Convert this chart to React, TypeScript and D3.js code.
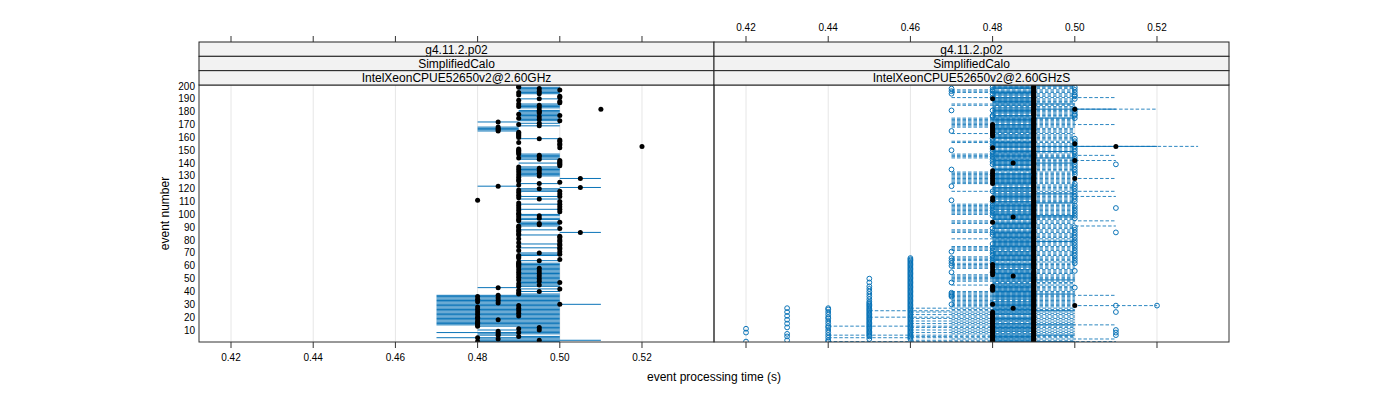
import React from 'react';
import * as d3 from 'd3';

// ---------- data (times in ms) ----------
const stripLevels1 = ['g4.11.2.p02', 'g4.11.2.p02'];
const stripLevels2 = ['SimplifiedCalo', 'SimplifiedCalo'];
const stripLevels3 = ['IntelXeonCPUE52650v2@2.60GHz', 'IntelXeonCPUE52650v2@2.60GHzS'];
const xTicks = [0.42, 0.44, 0.46, 0.48, 0.5, 0.52];
const xTickLabels = ['0.42', '0.44', '0.46', '0.48', '0.50', '0.52'];
const yTicks = [10, 20, 30, 40, 50, 60, 70, 80, 90, 100, 110, 120, 130, 140, 150, 160, 170, 180, 190, 200];

// left panel: one point per event, solid range line
const leftMedian = [
  480,495,485,480,490,485,485,490,485,495, 490,495,480,480,480,480,480,485,480,480,
  490,480,490,480,490,480,490,480,490,500, 485,480,485,480,485,480,485,490,490,495,
  490,500,485,490,495,490,500,495,490,495, 490,495,490,495,490,495,490,495,490,490,
  490,490,490,495,500,490,490,490,500,495, 500,490,500,500,490,500,500,490,500,500,
  490,500,500,490,490,505,490,490,500,490, 490,495,495,500,490,490,495,490,495,490,
  490,500,490,500,490,500,490,500,490,500, 480,495,490,500,490,500,490,500,490,495,
  505,485,490,495,500,490,490,505,490,495, 490,495,490,495,490,495,490,500,500,500,
  500,500,495,490,495,495,490,490,490,490, 490,500,520,500,500,490,500,500,495,490,
  490,490,490,490,485,485,485,485,495,490, 495,485,500,495,490,495,500,490,495,495,
  495,510,495,490,495,490,500,500,490,495, 500,500,490,495,490,495,500,495,490,490,
];
const leftMin = [
  480,480,480,470,490,480,480,470,490,480, 490,490,480,470,470,470,470,470,470,470,
  470,470,470,470,470,470,470,470,470,470, 470,470,470,470,470,470,470,490,490,490,
  490,490,480,490,490,490,490,490,490,490, 490,490,490,490,490,490,490,490,490,490,
  490,490,490,490,500,490,490,490,490,490, 500,490,500,490,490,500,490,490,500,500,
  490,500,500,490,490,500,490,490,500,490, 490,490,490,490,490,490,490,490,490,490,
  490,500,490,490,490,500,490,490,490,500, 480,490,490,490,490,500,490,490,490,490,
  500,480,490,490,500,490,490,500,490,490, 490,490,490,490,490,490,490,500,500,490,
  490,500,490,490,490,490,490,490,490,490, 490,500,520,500,500,490,500,500,490,490,
  490,490,490,490,480,480,480,480,490,490, 490,480,490,490,490,490,490,490,490,490,
  490,510,490,490,490,490,500,500,490,490, 500,500,490,490,490,490,490,490,490,490,
];
const leftMax = [
  500,510,500,500,500,490,500,500,500,500, 500,500,500,500,500,500,500,500,500,500,
  500,500,500,500,500,500,500,500,500,510, 500,500,500,500,500,500,500,500,490,500,
  490,500,490,500,500,500,500,500,500,500, 500,500,500,500,500,500,500,500,500,500,
  500,500,490,500,500,490,490,500,500,500, 500,490,500,500,490,500,500,490,500,500,
  490,500,500,500,490,510,490,500,500,490, 500,500,500,500,490,500,500,490,500,500,
  490,500,490,500,490,500,490,500,490,500, 480,500,490,500,490,500,490,500,500,500,
  510,490,490,500,500,490,490,510,490,500, 500,500,500,500,500,500,500,500,500,500,
  490,500,500,500,500,500,500,490,490,490, 490,500,520,500,500,490,500,500,500,490,
  490,490,490,490,490,490,490,490,500,490, 500,490,500,500,500,500,500,500,500,500,
  500,510,500,500,500,500,500,500,490,500, 500,500,490,500,500,500,500,500,500,490,
];

// right panel, solid series (black points)
const rightSolidMin = [
  480,480,480,480,480,480,480,480,480,480, 480,480,480,480,480,480,480,480,480,480,
  480,480,480,480,480,480,480,480,480,480, 480,480,480,480,480,480,480,480,480,480,
  480,480,480,480,480,480,480,480,480,480, 480,480,480,480,480,480,480,480,480,480,
  480,480,480,480,480,480,480,480,480,480, 480,480,480,480,480,480,480,480,480,480,
  480,480,480,480,480,480,480,480,480,480, 480,480,480,480,480,480,480,480,480,480,
  480,480,480,480,480,480,480,480,480,480, 480,480,480,480,480,480,480,480,480,480,
  480,480,480,480,480,480,480,480,480,480, 480,480,480,480,480,480,480,480,480,480,
  480,480,480,480,480,480,480,480,480,480, 480,480,480,480,480,480,480,480,480,480,
  480,480,480,480,480,480,480,480,480,480, 480,480,480,480,480,480,480,480,480,480,
  480,480,480,480,480,480,480,480,480,480, 480,480,480,480,480,480,480,480,480,480,
];
const rightSolidMax = [
  500,490,490,490,490,500,490,480,490,490, 490,490,490,500,490,480,490,490,490,490,
  480,490,490,490,500,490,490,490,490,490, 490,490,480,490,490,490,490,500,490,490,
  490,490,490,490,490,490,480,490,500,490, 490,490,490,490,490,490,490,480,490,490,
  490,490,480,490,490,490,490,490,490,490, 490,480,490,490,490,490,490,490,500,490,
  490,490,490,490,490,490,490,480,490,490, 490,490,490,490,480,490,490,500,500,490,
  490,490,480,490,490,490,490,490,500,490, 480,490,490,490,490,500,480,490,490,490,
  490,480,490,490,490,490,490,490,490,490, 490,490,480,490,490,490,480,490,490,500,
  490,490,490,500,490,490,490,490,500,490, 480,490,520,490,490,490,490,480,490,490,
  490,490,480,490,490,490,490,490,490,490, 480,490,490,490,500,490,490,480,490,490,
  490,510,490,480,490,500,490,490,490,490, 490,480,490,490,490,490,480,490,490,500,
];
const rightDots480 = [1,2,3,4,5,6,7,8,9,10,11,12,13,14,15,16,17,18,19,20,21,22,23,24,30,41,43,44,53,55,57,59,61,94,111,113,124,126,128,130,132,134,152,161,162,163,164,165,166,167,168,169,170,190];
const rightDots485 = [27, 52, 98, 140];
const rightDots490 = [
  1,2,3,4,5,6,7,8,9,10,11,12,13,14,15,16,17,18,19,20,21,22,23,24,25,26,27,28,29,30,
  31,32,33,34,35,36,37,38,39,40,41,42,43,44,45,46,47,48,49,50,51,52,53,54,55,56,58,59,60,
  61,62,63,64,65,66,67,68,69,70,71,72,73,74,75,76,77,78,79,80,81,82,83,84,85,86,87,88,90,
  91,92,93,94,95,96,97,98,99,100,101,102,103,104,105,106,107,108,109,110,111,112,113,114,115,116,117,118,119,120,
  121,122,123,124,125,126,127,128,129,130,132,133,134,135,136,137,138,139,140,141,142,143,144,145,146,147,148,149,150,
  151,152,153,154,155,156,157,158,159,160,161,162,163,164,165,166,167,168,169,170,171,172,173,174,175,177,178,179,180,
  181,182,183,184,185,186,187,188,189,190,191,192,193,194,195,196,197,198,199,200,
];
const rightDots500 = [29, 128, 142, 155, 182];
const rightDots510 = [153];

// right panel, dashed series (open circles)
const rightDashedMin = [
  440,460,470,440,460,440,470,460,470,460, 470,460,440,470,460,470,460,470,460,450,
  470,460,470,460,450,470,460,470,470,470, 470,470,470,470,470,470,470,470,470,470,
  480,480,480,480,470,480,480,470,470,470, 470,470,470,480,480,480,480,470,470,470,
  470,470,480,470,470,470,470,480,480,480, 480,470,470,470,470,480,480,480,480,480,
  470,480,480,480,480,470,470,470,480,480, 480,480,470,470,470,480,480,480,480,470,
  470,470,470,470,470,470,470,470,480,480, 480,480,480,480,480,480,480,470,480,480,
  480,480,480,470,470,470,470,470,470,470, 470,470,470,480,480,480,480,480,480,480,
  480,480,480,470,470,470,470,480,480,480, 480,480,480,480,480,470,470,480,480,480,
  480,480,470,480,480,480,480,470,470,470, 470,470,470,470,470,480,480,480,480,480,
  480,480,480,480,470,470,480,480,480,480, 470,480,480,480,470,470,470,480,480,480,
];
const rightDashedMax = [
  510,500,510,500,500,500,500,500,500,500, 500,500,500,510,500,500,500,500,500,500,
  500,500,500,500,500,500,500,500,520,500, 500,500,500,500,500,500,510,500,500,500,
  500,500,500,500,500,500,500,500,500,500, 500,500,500,500,500,500,500,500,500,500,
  500,500,500,500,500,500,500,500,500,500, 500,500,500,500,500,500,500,500,500,500,
  500,500,500,500,500,500,500,500,500,500, 510,500,500,500,510,500,500,500,500,500,
  500,500,500,500,500,500,500,500,500,500, 500,500,500,510,500,500,500,510,500,500,
  500,500,500,500,500,500,500,510,500,500, 500,500,500,500,500,500,500,500,500,500,
  500,510,500,500,500,510,500,500,500,500, 500,500,530,500,500,500,500,500,500,500,
  500,500,500,500,500,500,500,500,500,510, 500,500,500,500,500,500,500,500,500,500,
  500,520,500,500,500,500,500,500,500,500, 510,500,500,500,500,500,500,500,500,500,
];
const circles420 = [1, 8, 11];
const circles430 = [2, 5, 7, 12, 15, 18, 21, 24, 27];
const circles440 = [1, 2, 4, 6, 8, 10, 12, 13, 15, 17, 19, 20, 22, 24, 26, 27];
const circles450 = [3,5,6,7,8,9,10,11,12,13,14,15,16,17,18,19,20,21,22,23,24,25,26,27,28,29,30,31,32,34,36,38,40,42,44,47,50];
const circles460 = [3,4,5,6,7,8,9,10,11,12,13,14,15,16,17,18,19,20,21,22,23,24,25,26,27,28,29,30,31,32,33,34,35,36,37,38,39,40,41,42,43,44,45,46,47,48,49,50,51,52,53,54,55,56,57,58,59,60,61,62,63,64,65,66];
const circles470 = [30, 36, 37, 38, 39, 47, 55, 60, 62, 64, 66, 71, 111, 122, 135, 150, 165, 181, 194, 196, 198];
const circles480 = [30, 42, 55, 62, 64, 66, 68, 70, 72, 74, 77, 84, 86, 89, 99, 101, 103, 105, 107, 110, 118, 131, 139, 141, 143, 145, 147, 149, 151, 153, 155, 157, 159, 176, 177, 181, 191, 194, 196, 197, 199];
const circles490 = [29, 110, 131, 139, 147, 166];
const circles500 = [43, 56, 62, 64, 66, 68, 70, 72, 74, 76, 78, 80, 82, 84, 86, 88, 90, 97, 99, 101, 103, 105, 107, 110, 112, 114, 116, 118, 120, 122, 124, 131, 133, 135, 137, 139, 141, 143, 145, 147, 149, 151, 153, 155, 157, 159, 175, 177, 178, 180, 182, 190, 192, 193, 195, 197, 199];
const circles510 = [6, 8, 10, 24, 29, 86, 105, 139];
const circles520 = [29];

// ---------- layout ----------
const panelW = 515;
const panelLeft = [199, 714];
const plotTop = 85;
const plotBottom = 342;
const stripTop = 42;
const stripH = (plotTop - stripTop) / 3;
const BLUE = '#0a74b8';
const FONT = '"Liberation Sans", Arial, Helvetica, sans-serif';

const x = d3.scaleLinear().domain([0.41221, 0.53752]).range([0, panelW]);
const y = d3.scaleLinear().domain([0.66, 200.8]).range([plotBottom, plotTop]);
const t = (ms: number) => x(ms / 1000);

function RangeLines({ mins, maxs, dashed }: { mins: number[]; maxs: number[]; dashed?: boolean }) {
  return (
    <g stroke={BLUE} strokeWidth={1} strokeDasharray={dashed ? '3.5,2' : undefined} opacity={dashed ? 0.85 : 1}>
      {mins.map((lo, i) => {
        const hi = maxs[i];
        if (hi <= lo) return null;
        const yy = y(i + 1);
        return <line key={i} x1={t(lo)} x2={t(hi)} y1={yy} y2={yy} />;
      })}
    </g>
  );
}

function Dots({ ms, events, open }: { ms: number; events: number[]; open?: boolean }) {
  return (
    <g>
      {events.map((e, i) => (
        <circle key={i} cx={t(ms)} cy={y(e)} r={open ? 2.4 : 2.5}
          fill={open ? 'none' : '#000'} stroke={open ? BLUE : 'none'} strokeWidth={1} />
      ))}
    </g>
  );
}

export default function App() {
  const events = leftMedian.map((_, i) => i + 1);
  return (
    <svg width={1400} height={400} style={{ position: 'absolute', left: 0, top: 0, background: '#fff' }}
      fontFamily={FONT}>
      <defs>
        <clipPath id="clipPanel">
          <rect x={0} y={plotTop} width={panelW} height={plotBottom - plotTop} />
        </clipPath>
      </defs>

      {panelLeft.map((px, p) => (
        <g key={p}>
          {/* grid */}
          {xTicks.map((v, i) => (
            <line key={i} x1={px + x(v)} x2={px + x(v)} y1={plotTop} y2={plotBottom} stroke="#e6e6e6" strokeWidth={1} />
          ))}
          <g transform={`translate(${px},0)`}>
            <g clipPath="url(#clipPanel)">
              {p === 0 ? (
                <g>
                  <RangeLines mins={leftMin} maxs={leftMax} />
                  <g>
                    {events.map((e, i) => (
                      <circle key={i} cx={t(leftMedian[i])} cy={y(e)} r={2.5} fill="#000" />
                    ))}
                  </g>
                </g>
              ) : (
                <g>
                  <RangeLines mins={rightDashedMin} maxs={rightDashedMax} dashed />
                  <RangeLines mins={rightSolidMin} maxs={rightSolidMax} />
                  <Dots ms={420} events={circles420} open />
                  <Dots ms={430} events={circles430} open />
                  <Dots ms={440} events={circles440} open />
                  <Dots ms={450} events={circles450} open />
                  <Dots ms={460} events={circles460} open />
                  <Dots ms={470} events={circles470} open />
                  <Dots ms={480} events={circles480} open />
                  <Dots ms={490} events={circles490} open />
                  <Dots ms={500} events={circles500} open />
                  <Dots ms={510} events={circles510} open />
                  <Dots ms={520} events={circles520} open />
                  <Dots ms={480} events={rightDots480} />
                  <Dots ms={485} events={rightDots485} />
                  <Dots ms={490} events={rightDots490} />
                  <Dots ms={500} events={rightDots500} />
                  <Dots ms={510} events={rightDots510} />
                </g>
              )}
            </g>
          </g>
          {/* panel border */}
          <rect x={px} y={plotTop} width={panelW} height={plotBottom - plotTop} fill="none" stroke="#333" strokeWidth={1} />
          {/* strips */}
          {[stripLevels1[p], stripLevels2[p], stripLevels3[p]].map((label, k) => (
            <g key={k}>
              <rect x={px} y={stripTop + k * stripH} width={panelW} height={stripH} fill="#f2f2f2" stroke="#222" strokeWidth={1} />
              <text x={px + panelW / 2} y={stripTop + k * stripH + stripH / 2 + 0.5} textAnchor="middle"
                dominantBaseline="central" fontSize={12} fill="#000">{label}</text>
            </g>
          ))}
          {/* ticks */}
          {xTicks.map((v, i) => (
            <g key={i}>
              <line x1={px + x(v)} x2={px + x(v)} y1={plotBottom} y2={plotBottom + 6} stroke="#333" />
              <line x1={px + x(v)} x2={px + x(v)} y1={stripTop} y2={stripTop - 6} stroke="#333" />
              {p === 0 ? (
                <text x={px + x(v)} y={357} textAnchor="middle" dominantBaseline="central" fontSize={10}>{xTickLabels[i]}</text>
              ) : (
                <text x={px + x(v)} y={27} textAnchor="middle" dominantBaseline="central" fontSize={10}>{xTickLabels[i]}</text>
              )}
            </g>
          ))}
        </g>
      ))}

      {/* y axis labels */}
      {yTicks.map((v) => (
        <text key={v} x={195} y={y(v)} textAnchor="end" dominantBaseline="central" fontSize={10}>{v}</text>
      ))}
      <text transform={`translate(165,${(plotTop + plotBottom) / 2}) rotate(-90)`} textAnchor="middle"
        dominantBaseline="central" fontSize={12}>event number</text>
      <text x={714} y={377} textAnchor="middle" dominantBaseline="central" fontSize={12}>event processing time (s)</text>
    </svg>
  );
}
